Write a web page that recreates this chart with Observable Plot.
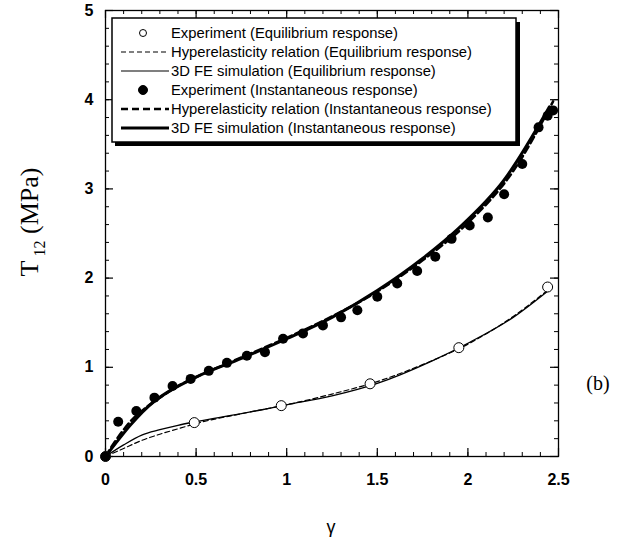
<!DOCTYPE html>
<html><head><meta charset="utf-8">
<script src="https://cdn.jsdelivr.net/npm/d3@7"></script>
<script src="https://cdn.jsdelivr.net/npm/@observablehq/plot@0.6"></script>
<style>
body{margin:0;background:#fff}
#wrap{position:relative;width:632px;height:546px}
</style></head><body><div id="wrap"></div>
<script>
// Equilibrium response
const eqExpX = [0, 0.49, 0.97, 1.46, 1.95, 2.44];
const eqExpY = [0, 0.38, 0.57, 0.815, 1.22, 1.90];
const eqHyperX = [0, 0.1, 0.2, 0.3, 0.4, 0.5, 0.75, 1.0, 1.25, 1.5, 1.75, 2.0, 2.25, 2.45];
const eqHyperY = [0, 0.09, 0.18, 0.25, 0.31, 0.37, 0.48, 0.58, 0.70, 0.84, 1.03, 1.26, 1.57, 1.88];
const eqFEX = [0, 0.1, 0.2, 0.3, 0.4, 0.5, 0.75, 1.0, 1.25, 1.5, 1.8, 2.0, 2.25, 2.45];
const eqFEY = [0, 0.13, 0.24, 0.30, 0.35, 0.39, 0.48, 0.58, 0.68, 0.82, 1.07, 1.27, 1.56, 1.87];
// Instantaneous response
const inExpX = [0, 0.07, 0.17, 0.27, 0.37, 0.47, 0.57, 0.67, 0.78, 0.88, 0.98, 1.09, 1.20, 1.30, 1.39, 1.50, 1.61, 1.72, 1.82, 1.91, 2.01, 2.11, 2.20, 2.30, 2.39, 2.44, 2.47];
const inExpY = [0, 0.39, 0.51, 0.66, 0.79, 0.87, 0.96, 1.05, 1.13, 1.17, 1.32, 1.38, 1.47, 1.56, 1.64, 1.79, 1.94, 2.08, 2.24, 2.44, 2.59, 2.68, 2.94, 3.28, 3.69, 3.82, 3.88];
const inHyperX = [0, 0.05, 0.1, 0.15, 0.2, 0.3, 0.4, 0.5, 0.75, 1.0, 1.25, 1.5, 1.75, 2.0, 2.25, 2.47];
const inHyperY = [0, 0.16, 0.30, 0.42, 0.51, 0.66, 0.79, 0.89, 1.11, 1.33, 1.57, 1.85, 2.20, 2.62, 3.20, 3.98];
const inFEX = [0, 0.27, 0.35, 0.5, 0.75, 1.0, 1.25, 1.5, 1.75, 1.95, 2.2, 2.45];
const inFEY = [0, 0.62, 0.73, 0.89, 1.10, 1.32, 1.56, 1.86, 2.22, 2.56, 3.10, 3.92];
// ticks
const xMajor = [0, 0.5, 1, 1.5, 2, 2.5];
const xMinor = d3.range(0, 26).map(i => i / 10);
const yMajor = [0, 1, 2, 3, 4, 5];
const yMinor = d3.range(0, 26).map(i => i / 5);
const legendLabels = [
  "Experiment (Equilibrium response)",
  "Hyperelasticity relation (Equilibrium response)",
  "3D FE simulation (Equilibrium response)",
  "Experiment (Instantaneous response)",
  "Hyperelasticity relation (Instantaneous response)",
  "3D FE simulation (Instantaneous response)"
];

const pts = (xs, ys) => xs.map((x, i) => ({x, y: ys[i]}));

const W = 632, H = 546, mL = 105, mR = 74, mT = 10, mB = 90;
const xDom = [0, 2.5], yDom = [0, 5];
// tick lengths converted from pixels to data units
const pxX = (xDom[1] - xDom[0]) / (W - mL - mR);
const pxY = (yDom[1] - yDom[0]) / (H - mT - mB);
const minorLen = 4, majorLen = 8;

const plot = Plot.plot({
  width: W, height: H,
  marginLeft: mL, marginRight: mR, marginTop: mT, marginBottom: mB,
  style: {fontFamily: "'Liberation Sans', Arial, sans-serif", fontSize: "16px", fontWeight: "bold", background: "#fff", color: "#000"},
  x: {domain: xDom},
  y: {domain: yDom},
  marks: [
    // inward ticks on all four sides
    Plot.ruleX(xMinor, {x: d => d, y1: yDom[0], y2: yDom[0] + minorLen * pxY, stroke: "#000", strokeWidth: 1}),
    Plot.ruleX(xMajor, {x: d => d, y1: yDom[0], y2: yDom[0] + majorLen * pxY, stroke: "#000", strokeWidth: 1.2}),
    Plot.ruleX(xMinor, {x: d => d, y1: yDom[1], y2: yDom[1] - minorLen * pxY, stroke: "#000", strokeWidth: 1}),
    Plot.ruleX(xMajor, {x: d => d, y1: yDom[1], y2: yDom[1] - majorLen * pxY, stroke: "#000", strokeWidth: 1.2}),
    Plot.ruleY(yMinor, {y: d => d, x1: xDom[0], x2: xDom[0] + minorLen * pxX, stroke: "#000", strokeWidth: 1}),
    Plot.ruleY(yMajor, {y: d => d, x1: xDom[0], x2: xDom[0] + majorLen * pxX, stroke: "#000", strokeWidth: 1.2}),
    Plot.ruleY(yMinor, {y: d => d, x1: xDom[1], x2: xDom[1] - minorLen * pxX, stroke: "#000", strokeWidth: 1}),
    Plot.ruleY(yMajor, {y: d => d, x1: xDom[1], x2: xDom[1] - majorLen * pxX, stroke: "#000", strokeWidth: 1.2}),
    Plot.axisX(xMajor, {anchor: "bottom", tickSize: 0, tickPadding: 17, label: null, tickFormat: d => String(d)}),
    Plot.axisY(yMajor, {anchor: "left", tickSize: 0, tickPadding: 12, label: null, tickFormat: d => String(d)}),
    Plot.frame({stroke: "#000", strokeWidth: 1.3}),
    Plot.line(pts(eqHyperX, eqHyperY), {x: "x", y: "y", curve: "monotone-x", stroke: "#000", strokeWidth: 1.2, strokeDasharray: "5,3"}),
    Plot.line(pts(eqFEX, eqFEY), {x: "x", y: "y", curve: "monotone-x", stroke: "#000", strokeWidth: 1.3}),
    Plot.line(pts(inHyperX, inHyperY), {x: "x", y: "y", curve: "monotone-x", stroke: "#000", strokeWidth: 2.6, strokeDasharray: "7,4"}),
    Plot.line(pts(inFEX, inFEY), {x: "x", y: "y", curve: "monotone-x", stroke: "#000", strokeWidth: 3}),
    Plot.dot(pts(eqExpX, eqExpY), {x: "x", y: "y", r: 5, fill: "#fff", stroke: "#000", strokeWidth: 1}),
    Plot.dot(pts(inExpX, inExpY), {x: "x", y: "y", r: 5, fill: "#000", stroke: "none"})
  ]
});
document.getElementById("wrap").appendChild(plot);

const svg = d3.select(plot);
// axis titles
const yl = svg.append("text")
  .attr("transform", "translate(38,222) rotate(-90)")
  .attr("text-anchor", "middle")
  .style("font-family", "'Liberation Serif', 'Times New Roman', serif")
  .style("font-size", "26px").style("font-weight", "normal")
  .attr("fill", "#000");
yl.append("tspan").text("T");
yl.append("tspan").attr("dy", 7).style("font-size", "16px").text(" 12");
yl.append("tspan").attr("dy", -7).text(" (MPa)");

svg.append("text").attr("x", 331).attr("y", 533).attr("text-anchor", "middle")
  .style("font-family", "'Liberation Sans', Arial, sans-serif").style("font-size", "18px").style("font-weight", "normal")
  .attr("fill", "#000").text("γ");

svg.append("text").attr("x", 598).attr("y", 390).attr("text-anchor", "middle")
  .style("font-family", "'Liberation Serif', 'Times New Roman', serif").style("font-size", "20px").style("font-weight", "normal")
  .attr("fill", "#000").text("(b)");

// legend
const lg = svg.append("g").attr("text-anchor", "start");
lg.append("rect").attr("x", 115).attr("y", 22).attr("width", 405).attr("height", 124).attr("fill", "#000");
lg.append("rect").attr("x", 112).attr("y", 18).attr("width", 404).attr("height", 124).attr("fill", "#fff").attr("stroke", "#000").attr("stroke-width", 1.5);
const rowY = [33, 52, 71, 90, 109, 128];
const styles = [
  {type: "open"}, {type: "line", w: 1.2, dash: "5,3"}, {type: "line", w: 1.2},
  {type: "filled"}, {type: "line", w: 2.6, dash: "7,4"}, {type: "line", w: 3}
];
styles.forEach((s, i) => {
  const y = rowY[i];
  if (s.type === "line") {
    lg.append("line").attr("x1", 121).attr("x2", 169).attr("y1", y).attr("y2", y)
      .attr("stroke", "#000").attr("stroke-width", s.w).attr("stroke-dasharray", s.dash || null);
  } else {
    lg.append("circle").attr("cx", 143).attr("cy", y).attr("r", s.type === "open" ? 3.5 : 4.5)
      .attr("fill", s.type === "open" ? "#fff" : "#000").attr("stroke", "#000").attr("stroke-width", 1);
  }
  lg.append("text").attr("x", 171).attr("y", y).attr("dy", "0.35em").attr("text-anchor", "start")
    .style("font-family", "'Liberation Sans', Arial, sans-serif").style("font-size", "14.8px").style("font-weight", "normal")
    .attr("fill", "#000").text(legendLabels[i]);
});
</script></body></html>
